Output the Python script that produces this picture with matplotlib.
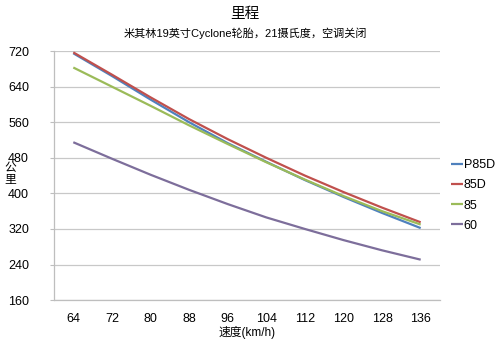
import matplotlib
matplotlib.use("Agg")
import matplotlib.pyplot as plt

plt.rcParams['font.family'] = ['Liberation Sans', 'Noto Sans CJK SC', 'DejaVu Sans']

# speed (km/h) and range (km) per model
speeds = [64, 72, 80, 88, 96, 104, 112, 120, 128, 136]
p85d = [715, 664, 611, 560, 513, 471, 430, 392, 356, 322]
s85d = [717, 667, 616, 567, 522, 480, 440, 403, 368, 335]
s85 = [683, 640, 597, 553, 511, 470, 431, 394, 360, 330]
s60 = [515, 478, 442, 408, 376, 346, 320, 295, 272, 251]

series = [("P85D", p85d, "#4F81BD"),
          ("85D", s85d, "#C0504D"),
          ("85", s85, "#9BBB59"),
          ("60", s60, "#7D6E9B")]

fig = plt.figure(figsize=(5, 3.45), dpi=100)
ax = fig.add_axes([0.108, 0.130, 0.772, 0.722])

for name, vals, col in series:
    ax.plot(speeds, vals, color=col, lw=1.6, label=name, solid_capstyle='butt')

ax.set_xlim(60, 140)
ax.set_ylim(160, 720)
ax.set_xticks(speeds)
ax.set_yticks(range(160, 721, 80))
ax.grid(axis='y', color='#C8C8C8', lw=0.9)
ax.set_axisbelow(True)

for s in ['top', 'right']:
    ax.spines[s].set_visible(False)
for s in ['left', 'bottom']:
    ax.spines[s].set_color('#BEBEBE')
    ax.spines[s].set_linewidth(0.9)

ax.tick_params(axis='y', length=3, color='#BEBEBE', labelsize=9, pad=15)
ax.tick_params(axis='x', length=0, labelsize=9, pad=9)

fig.text(0.49, 0.958, "里程", ha='center', va='center', fontsize=10.5)
fig.text(0.49, 0.905, "米其林19英寸Cyclone轮胎，21摄氏度，空调关闭",
         ha='center', va='center', fontsize=8)
fig.text(0.02, 0.495, "公\n里", ha='center', va='center', fontsize=8.5,
         linespacing=1.0)
ax.set_xlabel("速度(km/h)", fontsize=8.5, labelpad=1)

ax.legend(loc='center left', bbox_to_anchor=(1.0, 0.42), frameon=False,
          fontsize=9, handlelength=0.9, handletextpad=0.1,
          labelspacing=0.65)

fig.savefig("out.png", dpi=100)
